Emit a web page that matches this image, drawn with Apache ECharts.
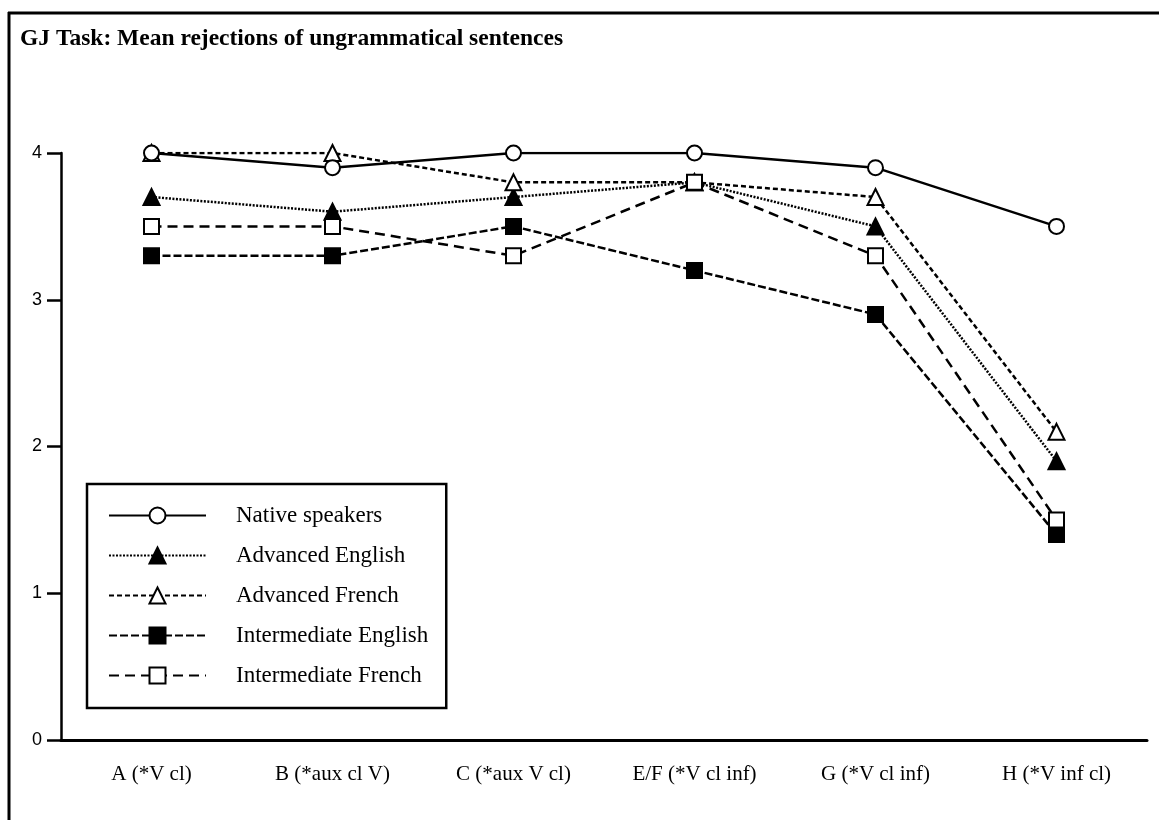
<!DOCTYPE html>
<html>
<head>
<meta charset="utf-8">
<script src="https://cdn.jsdelivr.net/npm/echarts@6/dist/echarts.min.js"></script>
<style>
  html, body { margin: 0; padding: 0; background: #fff; }
  #grafico { width: 1159px; height: 820px; }
</style>
</head>
<body>
<div id="grafico"></div>
<script>
// categorias del eje x
const categorias = ['A (*V cl)', 'B (*aux cl V)', 'C (*aux V cl)', 'E/F (*V cl inf)', 'G (*V cl inf)', 'H (*V inf cl)']

// valores por grupo
const nativos = [4.0, 3.9, 4.0, 4.0, 3.9, 3.5]
const avanzadoIngles = [3.7, 3.6, 3.7, 3.8, 3.5, 1.9]
const avanzadoFrances = [4.0, 4.0, 3.8, 3.8, 3.7, 2.1]
const intermedioIngles = [3.3, 3.3, 3.5, 3.2, 2.9, 1.4]
const intermedioFrances = [3.5, 3.5, 3.3, 3.8, 3.3, 1.5]

const chart = echarts.init(document.getElementById('grafico'))

function serie(nombre, datos, simbolo, relleno, tipoLinea, ancho, z) {
  return {
    name: nombre,
    type: 'line',
    data: datos,
    symbol: simbolo,
    symbolSize: simbolo === 'triangle' ? 16 : 15,
    showAllSymbol: true,
    animation: false,
    z: z,
    lineStyle: {
      color: '#000',
      width: ancho,
      type: tipoLinea
    },
    itemStyle: {
      color: relleno,
      borderColor: '#000',
      borderWidth: 2
    }
  }
}

const option = {
  animation: false,
  backgroundColor: '#fff',
  title: {
    text: 'GJ Task: Mean rejections of ungrammatical sentences',
    left: 15,
    top: 22,
    textStyle: {
      fontFamily: 'Liberation Serif',
      fontWeight: 'bold',
      fontSize: 23.5,
      color: '#000'
    }
  },
  graphic: [
    {
      type: 'line',
      shape: { x1: 8, y1: 13, x2: 1159, y2: 13 },
      style: { stroke: '#000', lineWidth: 3 }
    },
    {
      type: 'line',
      shape: { x1: 9, y1: 12, x2: 9, y2: 820 },
      style: { stroke: '#000', lineWidth: 3 }
    }
  ],
  legend: {
    orient: 'vertical',
    left: 87,
    top: 484,
    itemWidth: 97,
    itemHeight: 20,
    itemGap: 17,
    padding: [20, 18, 21, 21],
    borderColor: '#000',
    borderWidth: 2.5,
    backgroundColor: '#fff',
    textStyle: {
      fontFamily: 'Liberation Serif',
      fontSize: 23,
      lineHeight: 22,
      color: '#000',
      padding: [0, 0, 0, 25]
    },
    data: ['Native speakers', 'Advanced English', 'Advanced French', 'Intermediate English', 'Intermediate French']
  },
  grid: {
    left: 61,
    right: 12,
    top: 153,
    bottom: 80
  },
  xAxis: {
    type: 'category',
    data: categorias,
    boundaryGap: true,
    axisLine: { lineStyle: { color: '#000', width: 3 } },
    axisTick: { alignWithLabel: true, length: 12, lineStyle: { color: '#000', width: 2.5 } },
    axisLabel: {
      margin: 24,
      fontFamily: 'Liberation Serif',
      fontSize: 21,
      color: '#000'
    },
    splitLine: { show: false }
  },
  yAxis: {
    type: 'value',
    min: 0,
    max: 4,
    interval: 1,
    axisLine: { show: true, lineStyle: { color: '#000', width: 2.5 } },
    axisTick: { show: true, length: 14, lineStyle: { color: '#000', width: 2.5 } },
    axisLabel: {
      margin: 19,
      fontFamily: 'Liberation Sans',
      fontSize: 18,
      color: '#000'
    },
    splitLine: { show: false }
  },
  series: [
    serie('Native speakers', nativos, 'circle', '#fff', 'solid', 2.5, 6),
    serie('Advanced English', avanzadoIngles, 'triangle', '#000', [2, 1.5], 2.5, 3),
    serie('Advanced French', avanzadoFrances, 'triangle', '#fff', [5, 3], 2.5, 4),
    serie('Intermediate English', intermedioIngles, 'rect', '#000', [8, 3], 2.5, 2),
    serie('Intermediate French', intermedioFrances, 'rect', '#fff', [10, 6], 2.5, 5)
  ]
}

chart.setOption(option)
</script>
</body>
</html>
